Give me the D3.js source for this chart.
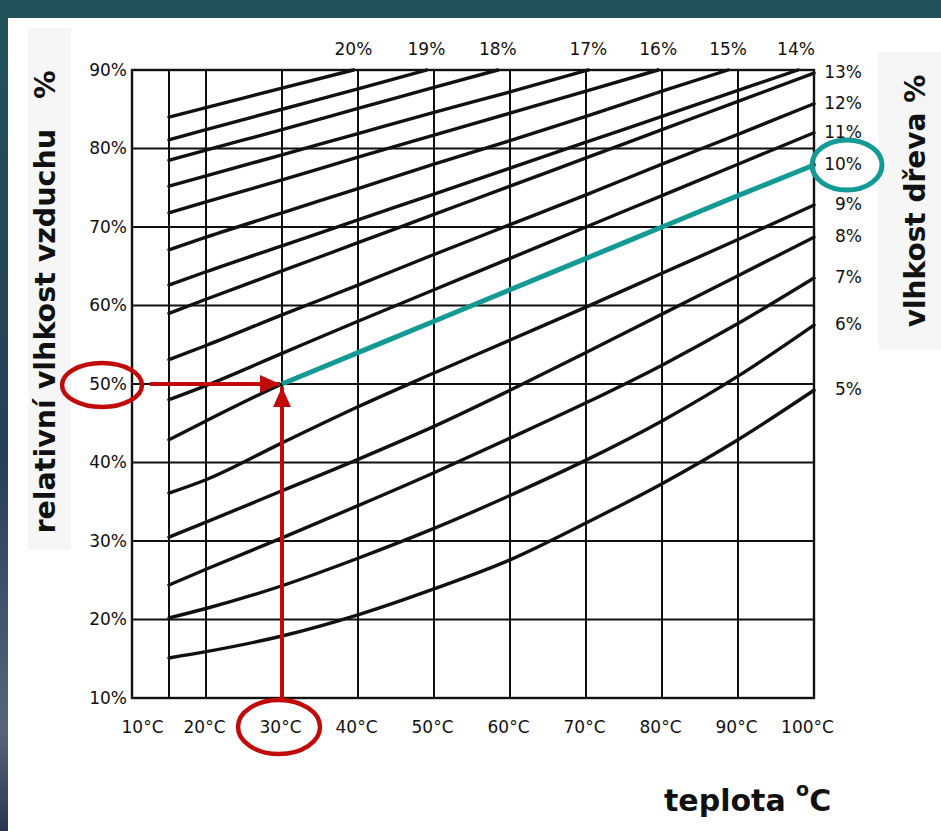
<!DOCTYPE html>
<html>
<head>
<meta charset="utf-8">
<script src="https://cdn.jsdelivr.net/npm/d3@7"></script>
<style>
  body { margin: 0; background: #fff; }
  svg { display: block; }
  .tick-label { font-family: "DejaVu Sans", sans-serif; font-size: 17px; fill: #111; }
  .title { font-family: "DejaVu Sans", sans-serif; font-weight: bold; fill: #111; white-space: pre; }
</style>
</head>
<body>
<svg id="chart"></svg>
<script>
// osa x: teplota, osa y: relativni vlhkost vzduchu
var tempTicks = [10, 20, 30, 40, 50, 60, 70, 80, 90, 100];
var tempGrid = [15, 20, 30, 40, 50, 60, 70, 80, 90];
var rhTicks = [10, 20, 30, 40, 50, 60, 70, 80, 90];
var rhGrid = [20, 30, 40, 50, 60, 70, 80];

// krivky rovnovazne vlhkosti dreva: [teplota, rel. vlhkost]
var w20 = [[15, 84.0], [20, 85.2], [30, 87.7], [39.4, 90]];
var w19 = [[15, 81.1], [20, 82.4], [30, 85.0], [40, 87.6], [49.0, 90]];
var w18 = [[15, 78.5], [20, 79.8], [30, 82.4], [40, 85.1], [50, 87.8], [58.4, 90]];
var w17 = [[15, 75.2], [20, 76.5], [30, 79.2], [40, 81.9], [50, 84.6], [60, 87.2], [70.3, 90]];
var w16 = [[15, 71.8], [20, 73.2], [30, 76.0], [40, 78.9], [50, 81.7], [60, 84.5], [70, 87.3], [79.5, 90]];
var w15 = [[15, 67.1], [20, 68.7], [30, 71.8], [40, 74.9], [50, 78.0], [60, 81.0], [70, 84.1], [80, 87.3], [88.7, 90]];
var w14 = [[15, 62.6], [20, 64.3], [30, 67.6], [40, 70.9], [50, 74.2], [60, 77.5], [70, 80.8], [80, 84.1], [90, 87.4], [97.9, 90]];
var w13 = [[15, 59.0], [20, 60.8], [30, 64.4], [40, 68.0], [50, 71.6], [60, 75.2], [70, 78.8], [80, 82.4], [90, 86.0], [100, 89.6]];
var w12 = [[15, 53.1], [20, 54.9], [30, 58.8], [40, 62.6], [50, 66.5], [60, 70.3], [70, 74.1], [80, 78.0], [90, 81.8], [100, 85.7]];
var w11 = [[15, 48.0], [20, 49.8], [30, 53.9], [40, 58.0], [50, 62.0], [60, 66.0], [70, 70.0], [80, 74.0], [90, 78.0], [100, 82.0]];
var w10 = [[15, 42.9], [20, 45.3], [30, 50.0], [40, 54.0], [50, 58.0], [60, 62.0], [70, 66.0], [80, 70.0], [90, 74.0], [100, 77.9]];
var w9 = [[15, 36.1], [20, 37.8], [30, 42.5], [40, 47.1], [50, 51.4], [60, 55.6], [70, 59.8], [80, 64.1], [90, 68.4], [100, 72.8]];
var w8 = [[15, 30.5], [20, 32.4], [30, 36.4], [40, 40.4], [50, 44.6], [60, 49.2], [70, 54.0], [80, 58.9], [90, 63.8], [100, 68.7]];
var w7 = [[15, 24.4], [20, 26.4], [30, 30.4], [40, 34.5], [50, 38.7], [60, 43.1], [70, 47.6], [80, 52.4], [90, 57.7], [100, 63.5]];
var w6 = [[15, 20.2], [20, 21.4], [30, 24.3], [40, 27.8], [50, 31.6], [60, 35.8], [70, 40.3], [80, 45.3], [90, 51.0], [100, 57.5]];
var w5 = [[15, 15.1], [20, 15.9], [30, 17.9], [40, 20.6], [50, 23.9], [60, 27.6], [70, 32.3], [80, 37.3], [90, 42.9], [100, 49.2]];

var moisture = [20, 19, 18, 17, 16, 15, 14, 13, 12, 11, 10, 9, 8, 7, 6, 5];
var curves = [w20, w19, w18, w17, w16, w15, w14, w13, w12, w11, w10, w9, w8, w7, w6, w5];

// priklad odectu: 30 °C, 50 % -> 10 % vlhkost dreva
var readTemp = 30, readRH = 50, readMoisture = 10;

var W = 941, H = 831;
var svg = d3.select("#chart").attr("width", W).attr("height", H);

// pozadi
var grad = svg.append("defs").append("linearGradient")
    .attr("id", "bg").attr("x1", 0).attr("y1", 0).attr("x2", 0).attr("y2", 1);
grad.append("stop").attr("offset", "0%").attr("stop-color", "#22535a");
grad.append("stop").attr("offset", "55%").attr("stop-color", "#263f56");
grad.append("stop").attr("offset", "88%").attr("stop-color", "#56657c");
grad.append("stop").attr("offset", "100%").attr("stop-color", "#2b3550");
svg.append("rect").attr("width", W).attr("height", H).attr("fill", "url(#bg)");
svg.append("rect").attr("x", 8).attr("y", 18).attr("width", W - 8).attr("height", H - 18).attr("fill", "#fff");
svg.append("rect").attr("x", 28).attr("y", 28).attr("width", 43).attr("height", 522).attr("fill", "#f6f6f6");
svg.append("rect").attr("x", 878).attr("y", 52).attr("width", 63).attr("height", 298).attr("fill", "#f6f6f6");

var x = d3.scaleLinear().domain([10, 20, 100]).range([132, 206, 814]);
var y = d3.scaleLinear().domain([10, 90]).range([698, 70]);

// mrizka
var grid = svg.append("g").attr("stroke", "#111").attr("stroke-width", 2);
grid.selectAll(".v").data(tempGrid).enter().append("line")
    .attr("x1", function(d) { return x(d); }).attr("x2", function(d) { return x(d); })
    .attr("y1", y(90)).attr("y2", y(10));
grid.selectAll(".h").data(rhGrid).enter().append("line")
    .attr("x1", x(10)).attr("x2", x(100))
    .attr("y1", function(d) { return y(d); }).attr("y2", function(d) { return y(d); });
grid.append("rect")
    .attr("x", x(10)).attr("y", y(90))
    .attr("width", x(100) - x(10)).attr("height", y(10) - y(90))
    .attr("fill", "none").attr("stroke-width", 2.4);

// krivky
var line = d3.line()
    .x(function(d) { return x(d[0]); })
    .y(function(d) { return y(d[1]); })
    .curve(d3.curveMonotoneX);

svg.append("g").selectAll("path").data(curves).enter().append("path")
    .attr("d", line)
    .attr("fill", "none")
    .attr("stroke", "#111")
    .attr("stroke-width", 3.4)
    .attr("stroke-linecap", "round");

// popisky os
var yAxis = svg.append("g").attr("transform", "translate(" + x(10) + ",0)")
    .call(d3.axisLeft(y).tickValues(rhTicks).tickSize(0).tickPadding(5)
        .tickFormat(function(d) { return d + "%"; }));
var xAxis = svg.append("g").attr("transform", "translate(0," + y(10) + ")")
    .call(d3.axisBottom(x).tickValues(tempTicks).tickSize(0).tickPadding(23)
        .tickFormat(function(d) { return d + "°C"; }));
[yAxis, xAxis].forEach(function(a) {
    a.select(".domain").remove();
    a.selectAll("text").attr("class", "tick-label").attr("fill", null);
});
xAxis.selectAll(".tick text")
    .attr("dx", function(d) { return d === 10 ? 10 : (d === 100 ? -7 : -2); });

// popisky krivek (nahore a vpravo)
var ends = curves.map(function(c, i) { return { m: moisture[i], p: c[c.length - 1] }; });
svg.append("g").selectAll("text").data(ends.filter(function(d) { return d.p[0] < 100; }))
    .enter().append("text")
    .attr("class", "tick-label")
    .attr("text-anchor", "middle")
    .attr("x", function(d) { return Math.min(x(d.p[0]), x(100) - 18); })
    .attr("y", y(90) - 15)
    .text(function(d) { return d.m + "%"; });
svg.append("g").selectAll("text").data(ends.filter(function(d) { return d.p[0] >= 100; }))
    .enter().append("text")
    .attr("class", "tick-label")
    .attr("text-anchor", "end")
    .attr("x", x(100) + 48)
    .attr("y", function(d) { return y(d.p[1]) + 5; })
    .text(function(d) { return d.m + "%"; });

// nazvy os
var lt = svg.append("text").attr("class", "title")
    .attr("transform", "translate(55,302) rotate(-90)")
    .attr("text-anchor", "middle")
    .style("font-size", "28.5px")
    .text("relativní vlhkost vzduchu");
lt.append("tspan").attr("dx", 30).text("%");
svg.append("text").attr("class", "title")
    .attr("transform", "translate(925,201) rotate(-90)")
    .attr("text-anchor", "middle")
    .style("font-size", "28px")
    .text("vlhkost dřeva %");
var tt = svg.append("text").attr("class", "title")
    .attr("x", 664).attr("y", 811)
    .style("font-size", "30px")
    .text("teplota ");
tt.append("tspan").attr("dy", -15).style("font-size", "19px").text("o");
tt.append("tspan").attr("dy", 15).text("C");

// odecet - cervene sipky
var red = "#c10a0a", teal = "#139a94";
var mk = svg.select("defs").append("marker")
    .attr("id", "arrow").attr("markerUnits", "userSpaceOnUse")
    .attr("viewBox", "0 0 20 18").attr("refX", 20).attr("refY", 9)
    .attr("markerWidth", 20).attr("markerHeight", 18).attr("orient", "auto");
mk.append("path").attr("d", "M0,0L20,9L0,18Z").attr("fill", red);

svg.append("line")
    .attr("x1", x(10) + 18).attr("y1", y(readRH))
    .attr("x2", x(readTemp) - 2).attr("y2", y(readRH))
    .attr("stroke", red).attr("stroke-width", 4)
    .attr("marker-end", "url(#arrow)");
svg.append("line")
    .attr("x1", x(readTemp)).attr("y1", y(10))
    .attr("x2", x(readTemp)).attr("y2", y(readRH) + 3)
    .attr("stroke", red).attr("stroke-width", 4)
    .attr("marker-end", "url(#arrow)");

svg.append("ellipse")
    .attr("cx", x(10) - 30).attr("cy", y(readRH) + 1)
    .attr("rx", 40).attr("ry", 22)
    .attr("fill", "none").attr("stroke", red).attr("stroke-width", 4.5);
svg.append("ellipse")
    .attr("cx", x(readTemp) - 3).attr("cy", y(10) + 29)
    .attr("rx", 41).attr("ry", 27)
    .attr("fill", "none").attr("stroke", red).attr("stroke-width", 4.5);

// odecet - tyrkysova krivka 10 %
var readCurve = curves[moisture.indexOf(readMoisture)];
svg.append("path")
    .datum(readCurve.filter(function(d) { return d[0] >= readTemp; }))
    .attr("d", line)
    .attr("fill", "none").attr("stroke", teal).attr("stroke-width", 5);
var endPt = readCurve[readCurve.length - 1];
svg.append("ellipse")
    .attr("cx", x(100) + 33).attr("cy", y(endPt[1]))
    .attr("rx", 35).attr("ry", 25)
    .attr("fill", "none").attr("stroke", teal).attr("stroke-width", 5);
</script>
</body>
</html>
